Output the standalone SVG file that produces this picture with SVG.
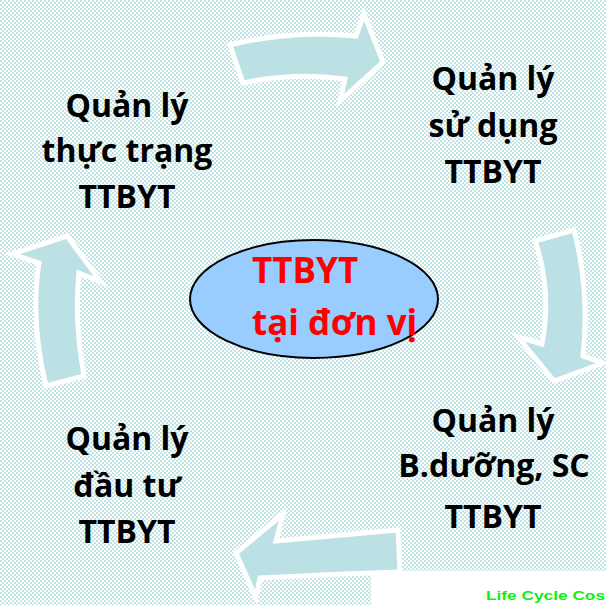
<svg xmlns="http://www.w3.org/2000/svg" width="606" height="605" viewBox="0 0 606 605">
<defs>
<pattern id="chk" width="4" height="4" patternUnits="userSpaceOnUse">
<rect width="4" height="4" fill="#ffffff"/>
<rect width="2" height="2" fill="#c2e4e4"/>
<rect x="2" y="2" width="2" height="2" fill="#c2e4e4"/>
</pattern>
<style>
.arr{fill:#bce1e4;stroke:#ffffff;stroke-width:5;stroke-linejoin:miter}
.lbl{font-family:"Open Sans","Noto Sans","DejaVu Sans",sans-serif;font-weight:bold;font-size:32px;fill:#000000;text-anchor:middle}
.red{font-family:"Open Sans","Noto Sans","DejaVu Sans",sans-serif;font-weight:bold;font-size:35px;fill:#ff0000}
</style>
</defs>
<rect width="606" height="605" fill="url(#chk)"/>
<g id="connectors">
<path class="arr" d="M 230,45 Q 290,30 356,36 L 364,14 L 383,62 L 340,101 L 345,79 Q 295,72 243,83 Z"/>
<path class="arr" d="M 535,241 L 574,230 Q 590,290 583,356 L 603,363 L 554,381 L 518,337 L 542,344 Q 552,290 535,241 Z"/>
<path class="arr" d="M 398,530 Q 330,536 276,541 L 283,514 L 236,553 L 256,598 L 260,578 Q 330,574 400,572 Z"/>
<path class="arr" d="M 46,386 L 84,376 Q 74,320 79,273 L 101,282 L 67,236 L 12,254 L 39,263 Q 30,320 46,386 Z"/>
</g>
<g id="center">
<ellipse cx="314" cy="299" rx="124" ry="59" fill="#99ccff" stroke="#000000" stroke-width="2"/>
<text class="red" x="252" y="283">TTBYT</text>
<text class="red" x="252" y="335">tại đơn vị</text>
</g>
<g id="node-thuc-trang">
<text class="lbl" x="127" y="117">Quản lý</text>
<text class="lbl" x="127" y="162">thực trạng</text>
<text class="lbl" x="127" y="208">TTBYT</text>
</g>
<g id="node-su-dung">
<text class="lbl" x="493" y="90">Quản lý</text>
<text class="lbl" x="493" y="137">sử dụng</text>
<text class="lbl" x="493" y="183">TTBYT</text>
</g>
<g id="node-bao-duong">
<text class="lbl" x="493" y="432">Quản lý</text>
<text class="lbl" x="494" y="477">B.dưỡng, SC</text>
<text class="lbl" x="493" y="528">TTBYT</text>
</g>
<g id="node-dau-tu">
<text class="lbl" x="127" y="450">Quản lý</text>
<text class="lbl" x="127" y="497">đầu tư</text>
<text class="lbl" x="127" y="543">TTBYT</text>
</g>
<g id="footer">
<rect x="371" y="571" width="235" height="34" fill="#ffffff"/>
<text x="486" y="600.5" transform="translate(486 0) scale(1.33 1) translate(-486 0)" font-family="Liberation Sans, Arial, sans-serif" font-weight="bold" font-size="13" fill="#11ee11">Life Cycle Cos</text>
</g>
</svg>
